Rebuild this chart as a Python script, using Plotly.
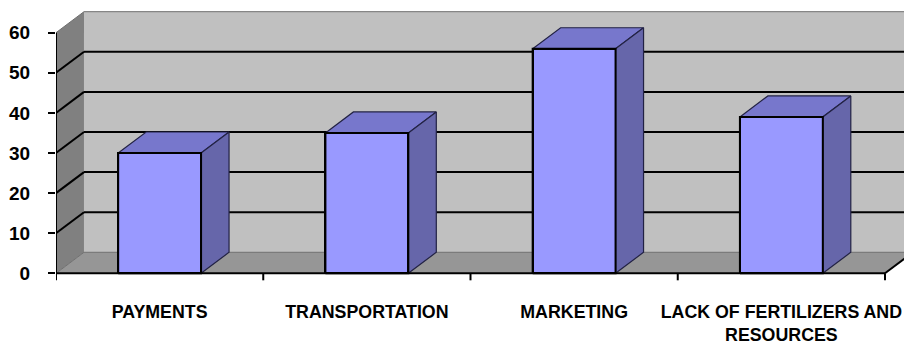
import plotly.graph_objects as go

# Survey results: problems reported by respondents
categories = ["PAYMENTS", "TRANSPORTATION", "MARKETING", "LACK OF FERTILIZERS AND<br>RESOURCES"]
values = [30, 35, 56, 39]
y_ticks = [0, 10, 20, 30, 40, 50, 60]

# 3-D look: depth offset of the back wall, in axis units
DX = 0.135
DY = 5.24
BAR_W = 0.4
Y_MAX = 60
X_END = 4.0917
Y_RANGE = [-1.92, 67.16]

FRONT = "#9999FF"
TOP = "#7777CC"
SIDE = "#6666AA"
BACK_WALL = "#C0C0C0"
SIDE_WALL = "#808080"
FLOOR = "#969696"

n = len(categories)
centers = [i + 0.5 for i in range(n)]

fig = go.Figure()

shapes = []
# back wall
shapes.append(dict(type="path", layer="below", line=dict(width=0), fillcolor=BACK_WALL,
                   path=f"M {DX},{DY} L {X_END + 1},{DY} L {X_END + 1},{Y_MAX + DY} L {DX},{Y_MAX + DY} Z"))
# left side wall
shapes.append(dict(type="path", layer="below", line=dict(width=0), fillcolor=SIDE_WALL,
                   path=f"M 0,0 L {DX},{DY} L {DX},{Y_MAX + DY} L 0,{Y_MAX} Z"))
# floor
shapes.append(dict(type="path", layer="below", line=dict(width=0), fillcolor=FLOOR,
                   path=f"M 0,0 L {DX},{DY} L {n + DX},{DY} L {n},0 Z"))

# gridlines on side and back walls
for v in y_ticks:
    if v in (0, Y_MAX):
        col, w = "#6E6E6E", 1
    else:
        col, w = "black", 2
    shapes.append(dict(type="line", layer="below", line=dict(color=col, width=w),
                       x0=0, y0=v, x1=DX, y1=v + DY))
    shapes.append(dict(type="line", layer="below", line=dict(color=col, width=w),
                       x0=DX, y0=v + DY, x1=X_END + 1, y1=v + DY))

fig.update_layout(shapes=shapes)

# front faces of the columns
fig.add_trace(go.Bar(x=centers, y=values, width=BAR_W, marker=dict(color=FRONT, line=dict(color="black", width=2)),
                     hoverinfo="skip", showlegend=False))

# top and side faces
for c, v in zip(centers, values):
    xl, xr = c - BAR_W / 2, c + BAR_W / 2
    fig.add_trace(go.Scatter(x=[xl, xl + DX, xr + DX, xr, xl], y=[v, v + DY, v + DY, v, v],
                             fill="toself", fillcolor=TOP, mode="lines",
                             line=dict(color="#222244", width=1.2), hoverinfo="skip", showlegend=False))
    fig.add_trace(go.Scatter(x=[xr, xr + DX, xr + DX, xr, xr], y=[0, DY, v + DY, v, 0],
                             fill="toself", fillcolor=SIDE, mode="lines",
                             line=dict(color="#222244", width=1.2), hoverinfo="skip", showlegend=False))
    fig.add_trace(go.Scatter(x=[xl, xr, xr, xl, xl], y=[0, 0, v, v, 0], mode="lines",
                             line=dict(color="black", width=2), hoverinfo="skip", showlegend=False))

# axis lines, category ticks and floor edge
ax_x, ax_y = [0, 0, None, 0, n, None], [0, Y_MAX, None, 0, 0, None]
for i in range(n + 1):
    ax_x += [i, i, None]
    ax_y += [0, -1.75, None]
ax_x += [n, n + DX, None]
ax_y += [0, DY, None]
fig.add_trace(go.Scatter(x=ax_x, y=ax_y, mode="lines", line=dict(color="black", width=2),
                         hoverinfo="skip", showlegend=False))

xfont = dict(family="Liberation Sans, Arial, sans-serif", size=17.8, color="black", weight="bold")
yfont = dict(family="Liberation Sans, Arial, sans-serif", size=19, color="black", weight="bold")

fig.update_xaxes(range=[0, X_END], tickvals=centers, ticktext=categories, ticks="",
                 showgrid=False, zeroline=False, showline=False, tickfont=xfont,
                 ticklabelstandoff=18)
fig.update_yaxes(range=Y_RANGE, tickvals=y_ticks, ticks="outside", ticklen=7, tickwidth=2,
                 tickcolor="black", showgrid=False, zeroline=False, showline=False,
                 tickfont=yfont, ticklabelstandoff=14)

fig.update_layout(width=904, height=345, margin=dict(l=56, r=0, t=4, b=64),
                  plot_bgcolor="white", paper_bgcolor="white", bargap=0)

fig.write_html("out.html")
